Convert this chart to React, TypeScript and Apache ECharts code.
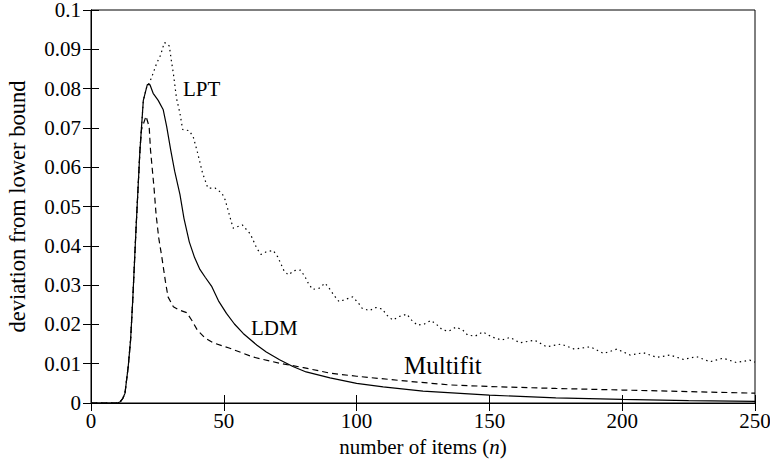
import React, { useEffect, useRef } from "react";
import * as echarts from "echarts";

const xTicks = [0, 50, 100, 150, 200, 250];
const yTickLabels = ["0", "0.01", "0.02", "0.03", "0.04", "0.05", "0.06", "0.07", "0.08", "0.09", "0.1"];

const ldm: [number, number][] = [
  [0, 0], [10, 0], [11, 0.0003], [12, 0.0012], [12.8, 0.0025], [14, 0.0092], [14.9, 0.016],
  [15.7, 0.026], [17, 0.045], [18.4, 0.064], [19.7, 0.077], [21.2, 0.081], [22.2, 0.081],
  [23.4, 0.0788], [25.3, 0.077], [27.2, 0.0746], [28.5, 0.0703], [30, 0.0644], [31.5, 0.059],
  [33.5, 0.053], [35, 0.047], [37, 0.041], [39, 0.037], [41, 0.034], [43, 0.032], [45.5, 0.0296],
  [48, 0.026], [51, 0.0228], [54, 0.0201], [57.3, 0.0177], [62.5, 0.0147], [66, 0.013],
  [71, 0.011], [76, 0.0093], [81, 0.0079], [90, 0.0064], [100, 0.005], [110, 0.0041],
  [125, 0.003], [150, 0.002], [175, 0.0013], [200, 0.0009], [225, 0.0006], [250, 0.0004],
];

const multifit: [number, number][] = [
  [0, 0], [10, 0], [11, 0.0003], [12, 0.0012], [12.8, 0.0025], [14, 0.0092], [14.9, 0.016],
  [15.7, 0.026], [17, 0.045], [18.4, 0.064], [19, 0.0695], [20.7, 0.073], [21.9, 0.0703],
  [22.4, 0.0644], [23.7, 0.055], [24.5, 0.048], [25.5, 0.042], [26.7, 0.037], [28, 0.031],
  [29, 0.027], [31, 0.0245], [33, 0.0237], [36, 0.023], [38, 0.021], [40, 0.0186], [43, 0.0165],
  [46, 0.0153], [52, 0.014], [61, 0.0117], [71, 0.0101], [80, 0.009], [90, 0.0076],
  [100, 0.0068], [120, 0.0055], [135, 0.0046], [150, 0.0042], [175, 0.0037], [200, 0.0033],
  [225, 0.0029], [250, 0.0025],
];

const lpt: [number, number][] = [
  [0, 0], [10, 0], [11, 0.0003], [12, 0.0012], [12.8, 0.0025], [14, 0.0092], [14.9, 0.016],
  [15.7, 0.026], [17, 0.045], [18.4, 0.064], [19.7, 0.077], [21.2, 0.081], [21.9, 0.0813],
  [23.4, 0.0839], [24.7, 0.0864], [26.2, 0.0885], [27.6, 0.0917], [28.5, 0.0915], [29.5, 0.0908],
  [30.3, 0.0869], [31, 0.0839], [32.2, 0.0775], [33.5, 0.0737], [34.5, 0.0696], [37, 0.0693],
  [38.5, 0.0677], [40, 0.064], [42, 0.0585], [44, 0.0547], [46.7, 0.0547], [49.3, 0.0534],
  [50.5, 0.0517], [53.5, 0.0445], [57, 0.0453], [60, 0.043], [62.4, 0.0394], [64, 0.0378],
  [66.1, 0.0385], [68.6, 0.0388], [70.3, 0.0372], [72.7, 0.0336], [74.3, 0.0326], [76.5, 0.0337],
  [78.9, 0.0338], [80.6, 0.0321], [81.8, 0.0305], [83.4, 0.0289], [85.9, 0.0292], [88.1, 0.0305],
  [90, 0.0289], [91.6, 0.0273], [93.4, 0.0258], [96, 0.0264], [98.5, 0.027], [100.5, 0.0256],
  [102.1, 0.0241], [104.8, 0.0235], [107.3, 0.0243], [109.7, 0.0239], [111.3, 0.0224],
  [113.6, 0.0211], [116, 0.022], [118.9, 0.0226], [120.7, 0.0211], [122.9, 0.0198],
  [125.5, 0.0201], [128, 0.021], [130.1, 0.02], [132.3, 0.0186], [134.8, 0.0183], [137.4, 0.0193],
  [139.9, 0.0186], [141.8, 0.0173], [144.6, 0.017], [147.5, 0.0181], [151, 0.0168],
  [154.6, 0.016], [157.8, 0.0167], [161.5, 0.0153], [167, 0.016], [171.5, 0.0143], [177, 0.015],
  [182, 0.0137], [188, 0.0143], [193, 0.0126], [198, 0.0137], [203, 0.0122], [208, 0.0128],
  [213, 0.0116], [218, 0.0122], [223, 0.0111], [228, 0.0118], [233, 0.0105], [238, 0.0114],
  [243, 0.0103], [248, 0.0109], [250, 0.0104],
];

const FONT = "Liberation Serif, Times New Roman, serif";
const INK = "#000";
const FS = 21;

export default function App() {
  const ref = useRef<HTMLDivElement>(null);
  useEffect(() => {
    if (!ref.current) return;
    const chart = echarts.init(ref.current, undefined, { renderer: "svg" });
    const axisLine = { show: true, lineStyle: { color: INK, width: 1 } };
    const tickIn = { show: true, inside: true, length: 8, lineStyle: { color: INK, width: 1 } };
    const lineSeries = (name: string, data: [number, number][], type: any) => ({
      name,
      type: "line",
      data,
      showSymbol: false,
      symbol: "none",
      smooth: false,
      lineStyle: { color: INK, width: 1.2, type, cap: "butt" },
      z: 3,
    });
    chart.setOption({
      animation: false,
      backgroundColor: "#fff",
      textStyle: { fontFamily: FONT },
      grid: {
        left: 91,
        right: 15,
        top: 10,
        bottom: 57,
        show: true,
        borderColor: INK,
        borderWidth: 1,
        containLabel: false,
        outerBoundsMode: "none",
      },
      xAxis: [
        {
          type: "value",
          min: 0,
          max: 250,
          interval: 50,
          position: "bottom",
          axisLine,
          axisTick: tickIn,
          splitLine: { show: false },
          axisLabel: {
            color: INK,
            fontFamily: FONT,
            fontSize: FS,
            margin: 7,
            formatter: (v: number) => (xTicks.includes(v) ? String(v) : ""),
          },
          name: "{a|number of items (}{b|n}{a|)}",
          nameLocation: "middle",
          nameGap: 33,
          nameTextStyle: {
            fontFamily: FONT,
            fontSize: FS,
            rich: {
              a: { fontFamily: FONT, fontSize: FS, color: INK },
              b: { fontFamily: FONT, fontSize: FS, color: INK, fontStyle: "italic" },
            },
          },
        },
        {
          type: "value",
          min: 0,
          max: 250,
          interval: 50,
          position: "top",
          axisLine,
          axisTick: tickIn,
          splitLine: { show: false },
          axisLabel: { show: false },
        },
      ],
      yAxis: [
        {
          type: "value",
          min: 0,
          max: 0.1,
          interval: 0.01,
          position: "left",
          axisLine,
          axisTick: tickIn,
          splitLine: { show: false },
          axisLabel: {
            color: INK,
            fontFamily: FONT,
            fontSize: FS,
            lineHeight: 17,
            margin: 10,
            formatter: (v: number) => yTickLabels[Math.round(v * 100)] ?? "",
          },
          name: "deviation from lower bound",
          nameLocation: "middle",
          nameGap: 62,
          nameTextStyle: { fontFamily: FONT, fontSize: 22.5, color: INK },
        },
        {
          type: "value",
          min: 0,
          max: 0.1,
          interval: 0.01,
          position: "right",
          axisLine,
          axisTick: tickIn,
          splitLine: { show: false },
          axisLabel: { show: false },
        },
      ],
      series: [
        lineSeries("LDM", ldm, "solid"),
        lineSeries("Multifit", multifit, [6, 4]),
        lineSeries("LPT", lpt, [1.5, 3.5]),
      ],
      graphic: [
        { type: "text", left: 183, top: 78, style: { text: "LPT", fontFamily: FONT, fontSize: 21, fill: INK } },
        { type: "text", left: 251, top: 317, style: { text: "LDM", fontFamily: FONT, fontSize: 21, fill: INK } },
        { type: "text", left: 404, top: 353, style: { text: "Multifit", fontFamily: FONT, fontSize: 25, fill: INK } },
      ],
    });
    return () => chart.dispose();
  }, []);
  return (
    <div
      ref={ref}
      style={{ position: "fixed", left: 0, top: 0, width: 770, height: 460, background: "#fff" }}
    />
  );
}
